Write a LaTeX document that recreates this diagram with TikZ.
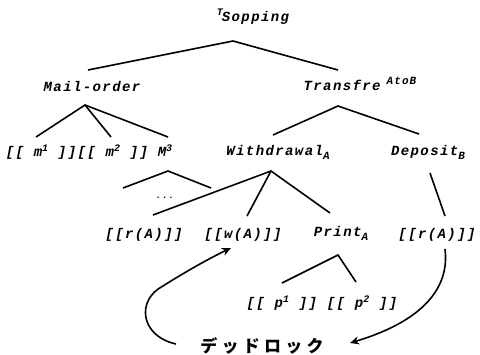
\documentclass[tikz,border=0pt]{standalone}
\usepackage{fontspec}
\usetikzlibrary{arrows.meta}
\newfontfamily\lm[LetterSpace=10]{Liberation Mono}
\newfontfamily\cjk[LetterSpace=25]{Noto Sans CJK JP}
\newcommand{\mysup}[1]{\raisebox{5pt}{\fontsize{10}{10}\selectfont #1}}
\newcommand{\mysub}[1]{\raisebox{-4pt}{\fontsize{11}{11}\selectfont #1}}
\begin{document}
\begin{tikzpicture}[x=1pt,y=-1pt,
  lbl/.style={font=\lm\bfseries\itshape\fontsize{14}{16}\selectfont, inner sep=0pt, anchor=center},
  br/.style={line width=1.6pt, line join=miter},
  arr/.style={line width=1.6pt, -{Stealth[length=9pt,width=8pt]}}]
\useasboundingbox (0,0) rectangle (480,354);
% labels
\node[lbl] (root) at (253,17) {\raisebox{6pt}{\fontsize{10}{10}\selectfont T}\hspace{-1pt}Sopping};
\node[lbl] (mail) at (92,86) {Mail-order};
\node[lbl] (trans) at (360,84) {Transfre\hspace{6pt}\raisebox{6pt}{\fontsize{11}{11}\selectfont AtoB}};
\node[lbl] (ms) at (89,152) {[[ m\mysup{1} ]][[ m\mysup{2} ]] M\mysup{3}};
\node[lbl] (wd) at (278,152) {Withdrawal\mysub{A}};
\node[lbl] (dep) at (428,152) {Deposit\mysub{B}};
\node[lbl] (dots) at (165,198) {\fontsize{9}{9}\selectfont ...};
\node[lbl] (ra) at (144,235) {[[r(A)]]};
\node[lbl] (wa) at (243,235) {[[w(A)]]};
\node[lbl] (pr) at (341,233) {Print\mysub{A}};
\node[lbl] (rb) at (437,235) {[[r(A)]]};
\node[lbl] (pp) at (322,303) {[[ p\mysup{1} ]] [[ p\mysup{2} ]]};
\node[font=\cjk\bfseries\fontsize{17}{17}\selectfont, inner sep=0pt] (dl) at (262,346) {デッドロック};
% tree coordinates
\coordinate (a0) at (233,41);
\coordinate (a0l) at (88,70);
\coordinate (a0r) at (338,70);
\coordinate (a1) at (85,105);
\coordinate (a1a) at (36,137);
\coordinate (a1b) at (111,137);
\coordinate (a1c) at (168,137);
\coordinate (a2) at (338,106);
\coordinate (a2a) at (273,135);
\coordinate (a2b) at (419,134);
\coordinate (a3) at (168,171);
\coordinate (a3a) at (123,188);
\coordinate (a3b) at (211,188);
\coordinate (a4) at (271,171);
\coordinate (a4a) at (153,215);
\coordinate (a4b) at (247,216);
\coordinate (a4c) at (330,213);
\coordinate (d1) at (430,173);
\coordinate (d2) at (445,216);
\coordinate (a5) at (338,255);
\coordinate (a5a) at (282,283);
\coordinate (a5b) at (356,282);
\draw[br] (a0l) -- (a0) -- (a0r);
\draw[br] (a1a) -- (a1) -- (a1c);
\draw[br] (a1) -- (a1b);
\draw[br] (a2a) -- (a2) -- (a2b);
\draw[br] (a3a) -- (a3) -- (a3b);
\draw[br] (a4a) -- (a4) -- (a4c);
\draw[br] (a4) -- (a4b);
\draw[br] (d1) -- (d2);
\draw[br] (a5a) -- (a5) -- (a5b);
% arrows
\coordinate (s1) at (176,344);
\coordinate (e1) at (231,248);
\coordinate (s2) at (445,249);
\coordinate (e2) at (350,343);
\draw[arr] (s1) .. controls (140,336) and (136,300) .. (163,286) .. controls (185,272) and (210,258) .. (e1);
\draw[arr] (s2) .. controls (450,290) and (420,322) .. (e2);
\end{tikzpicture}
\end{document}
